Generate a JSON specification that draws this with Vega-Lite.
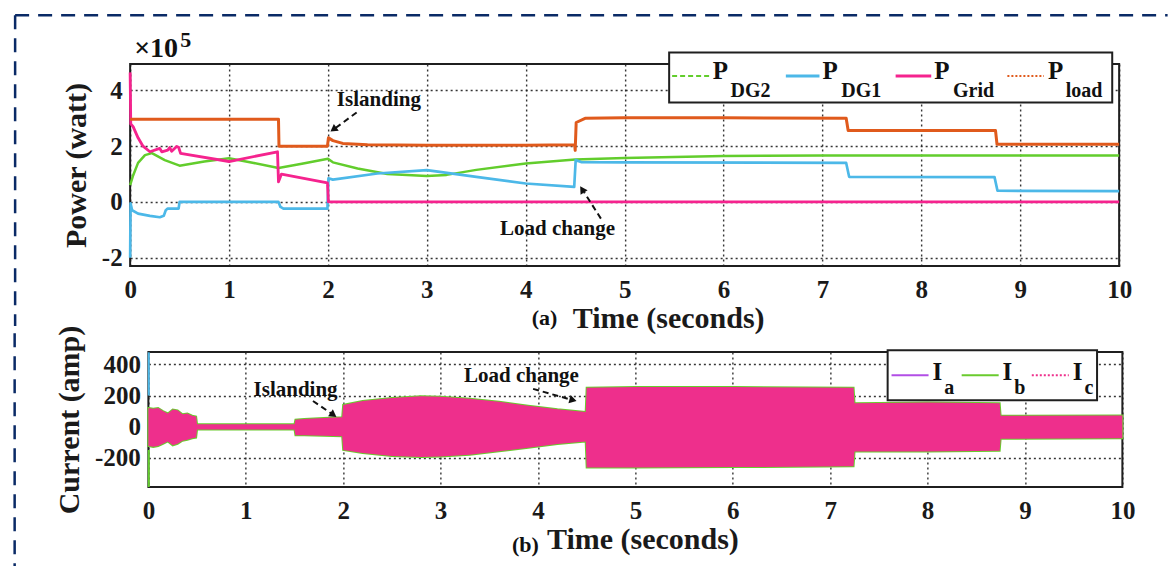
{
  "$schema": "https://vega.github.io/schema/vega-lite/v6.json",
  "background": "white",
  "padding": {"left": 12, "top": 12, "right": 0, "bottom": 0},
  "columns": 1,
  "center": true,
  "bounds": "full",
  "spacing": -10,
  "datasets": {
    "power": [
      {"t":0,"v":0.6,"s":"P_DG2"},{"t":0.03,"v":0.95,"s":"P_DG2"},{"t":0.08,"v":1.4,"s":"P_DG2"},{"t":0.15,"v":1.68,"s":"P_DG2"},{"t":0.22,"v":1.75,"s":"P_DG2"},{"t":0.35,"v":1.5,"s":"P_DG2"},{"t":0.5,"v":1.3,"s":"P_DG2"},{"t":0.75,"v":1.45,"s":"P_DG2"},{"t":1.0,"v":1.57,"s":"P_DG2"},{"t":1.25,"v":1.4,"s":"P_DG2"},{"t":1.5,"v":1.22,"s":"P_DG2"},{"t":1.75,"v":1.38,"s":"P_DG2"},{"t":2.0,"v":1.55,"s":"P_DG2"},{"t":2.05,"v":1.42,"s":"P_DG2"},{"t":2.3,"v":1.2,"s":"P_DG2"},{"t":2.6,"v":1.0,"s":"P_DG2"},{"t":3.0,"v":0.93,"s":"P_DG2"},{"t":3.2,"v":0.97,"s":"P_DG2"},{"t":3.5,"v":1.15,"s":"P_DG2"},{"t":4.0,"v":1.38,"s":"P_DG2"},{"t":4.5,"v":1.52,"s":"P_DG2"},{"t":5.0,"v":1.58,"s":"P_DG2"},{"t":6.0,"v":1.65,"s":"P_DG2"},{"t":7.0,"v":1.67,"s":"P_DG2"},{"t":10,"v":1.67,"s":"P_DG2"},
      {"t":0,"v":-2.0,"s":"P_DG1"},{"t":0.004,"v":-0.05,"s":"P_DG1"},{"t":0.02,"v":-0.3,"s":"P_DG1"},{"t":0.08,"v":-0.42,"s":"P_DG1"},{"t":0.2,"v":-0.5,"s":"P_DG1"},{"t":0.3,"v":-0.55,"s":"P_DG1"},{"t":0.34,"v":-0.5,"s":"P_DG1"},{"t":0.36,"v":-0.3,"s":"P_DG1"},{"t":0.38,"v":-0.24,"s":"P_DG1"},{"t":0.49,"v":-0.24,"s":"P_DG1"},{"t":0.5,"v":0,"s":"P_DG1"},{"t":1.5,"v":0,"s":"P_DG1"},{"t":1.52,"v":-0.18,"s":"P_DG1"},{"t":1.55,"v":-0.24,"s":"P_DG1"},{"t":1.995,"v":-0.24,"s":"P_DG1"},{"t":2.005,"v":0.85,"s":"P_DG1"},{"t":2.05,"v":0.8,"s":"P_DG1"},{"t":2.5,"v":1.02,"s":"P_DG1"},{"t":3.0,"v":1.14,"s":"P_DG1"},{"t":3.5,"v":0.9,"s":"P_DG1"},{"t":4.0,"v":0.66,"s":"P_DG1"},{"t":4.49,"v":0.54,"s":"P_DG1"},{"t":4.505,"v":1.5,"s":"P_DG1"},{"t":4.56,"v":1.43,"s":"P_DG1"},{"t":5,"v":1.42,"s":"P_DG1"},{"t":7.24,"v":1.4,"s":"P_DG1"},{"t":7.27,"v":0.9,"s":"P_DG1"},{"t":8.74,"v":0.89,"s":"P_DG1"},{"t":8.77,"v":0.4,"s":"P_DG1"},{"t":10,"v":0.39,"s":"P_DG1"},
      {"t":0,"v":4.65,"s":"P_Grid"},{"t":0.006,"v":2.8,"s":"P_Grid"},{"t":0.03,"v":2.7,"s":"P_Grid"},{"t":0.08,"v":2.3,"s":"P_Grid"},{"t":0.13,"v":2.0,"s":"P_Grid"},{"t":0.2,"v":1.8,"s":"P_Grid"},{"t":0.3,"v":1.92,"s":"P_Grid"},{"t":0.32,"v":1.8,"s":"P_Grid"},{"t":0.38,"v":1.86,"s":"P_Grid"},{"t":0.4,"v":1.95,"s":"P_Grid"},{"t":0.42,"v":1.82,"s":"P_Grid"},{"t":0.47,"v":1.99,"s":"P_Grid"},{"t":0.49,"v":1.96,"s":"P_Grid"},{"t":0.51,"v":1.74,"s":"P_Grid"},{"t":1.0,"v":1.45,"s":"P_Grid"},{"t":1.49,"v":1.8,"s":"P_Grid"},{"t":1.5,"v":0.72,"s":"P_Grid"},{"t":1.53,"v":1.0,"s":"P_Grid"},{"t":1.995,"v":0.68,"s":"P_Grid"},{"t":2.005,"v":0,"s":"P_Grid"},{"t":10,"v":0,"s":"P_Grid"},
      {"t":0,"v":2.97,"s":"P_load"},{"t":1.5,"v":2.97,"s":"P_load"},{"t":1.505,"v":2.0,"s":"P_load"},{"t":1.995,"v":2.0,"s":"P_load"},{"t":2.005,"v":2.3,"s":"P_load"},{"t":2.05,"v":2.2,"s":"P_load"},{"t":2.15,"v":2.1,"s":"P_load"},{"t":2.4,"v":2.05,"s":"P_load"},{"t":3,"v":2.03,"s":"P_load"},{"t":4,"v":2.03,"s":"P_load"},{"t":4.495,"v":2.05,"s":"P_load"},{"t":4.5,"v":1.85,"s":"P_load"},{"t":4.51,"v":2.85,"s":"P_load"},{"t":4.6,"v":3.0,"s":"P_load"},{"t":5,"v":3.02,"s":"P_load"},{"t":6,"v":3.02,"s":"P_load"},{"t":7.24,"v":3.0,"s":"P_load"},{"t":7.26,"v":2.56,"s":"P_load"},{"t":8,"v":2.56,"s":"P_load"},{"t":8.75,"v":2.56,"s":"P_load"},{"t":8.765,"v":2.07,"s":"P_load"},{"t":10,"v":2.07,"s":"P_load"}
    ],
    "env": [
      {"t":0,"lo":-125,"hi":120},{"t":0.05,"lo":-130,"hi":115},{"t":0.1,"lo":-125,"hi":120},{"t":0.15,"lo":-110,"hi":100},{"t":0.2,"lo":-95,"hi":85},{"t":0.25,"lo":-120,"hi":110},{"t":0.3,"lo":-110,"hi":105},{"t":0.35,"lo":-90,"hi":80},{"t":0.4,"lo":-85,"hi":85},{"t":0.45,"lo":-75,"hi":70},{"t":0.49,"lo":-70,"hi":65},{"t":0.5,"lo":-18,"hi":15},{"t":1.5,"lo":-18,"hi":15},{"t":1.51,"lo":-55,"hi":45},{"t":1.6,"lo":-55,"hi":50},{"t":1.8,"lo":-58,"hi":55},{"t":1.99,"lo":-62,"hi":60},{"t":2.0,"lo":-150,"hi":140},{"t":2.2,"lo":-170,"hi":165},{"t":2.5,"lo":-188,"hi":185},{"t":2.8,"lo":-195,"hi":195},{"t":3.0,"lo":-192,"hi":192},{"t":3.3,"lo":-180,"hi":180},{"t":3.6,"lo":-158,"hi":160},{"t":3.9,"lo":-135,"hi":135},{"t":4.2,"lo":-112,"hi":112},{"t":4.49,"lo":-95,"hi":95},{"t":4.5,"lo":-262,"hi":250},{"t":5,"lo":-262,"hi":255},{"t":6,"lo":-260,"hi":255},{"t":7.24,"lo":-255,"hi":250},{"t":7.25,"lo":-160,"hi":150},{"t":8,"lo":-160,"hi":155},{"t":8.74,"lo":-155,"hi":150},{"t":8.75,"lo":-78,"hi":70},{"t":10,"lo":-75,"hi":72}
    ],
    "spikes": [
      {"t":0.004,"a":200,"b":478,"ph":"Ib"},
      {"t":0.004,"a":-388,"b":-150,"ph":"Ia"}
    ]
  },
  "config": {
    "font": "Liberation Serif",
    "view": {"stroke": "#1f1f1f", "strokeWidth": 2},
    "axis": {
      "labelFont": "Liberation Serif", "labelFontWeight": "bold", "labelFontSize": 25, "labelColor": "#1a1a1a",
      "titleFont": "Liberation Serif", "titleFontWeight": "bold", "titleFontSize": 30, "titleColor": "#1a1a1a",
      "grid": true, "gridColor": "#1f1f1f", "gridDash": [2, 3], "gridWidth": 1.4, "gridOpacity": 0.9,
      "domain": false, "ticks": false, "labelPadding": 8, "labelOverlap": false
    },
    "text": {"font": "Liberation Serif", "fontWeight": "bold", "color": "#111111"}
  },
  "concat": [
    {
      "width": 989,
      "height": 202,
      "layer": [
        {
          "data": {"name": "power"},
          "mark": {"type": "line", "strokeJoin": "round"},
          "encoding": {
            "x": {"field": "t", "type": "quantitative", "scale": {"domain": [0, 10], "nice": false, "zero": false},
                  "axis": {"values": [0,1,2,3,4,5,6,7,8,9,10], "title": "Time (seconds)", "titleX": 538, "titleY": 61, "titleBaseline": "alphabetic", "labelPadding": 11, "labelFlush": false, "labelExpr": "'' + datum.value"}},
            "y": {"field": "v", "type": "quantitative", "scale": {"domain": [-2.3, 4.95], "nice": false, "zero": false},
                  "axis": {"values": [-2, 0, 2, 4], "title": "Power (watt)", "titlePadding": 10, "labelExpr": "'' + datum.value"}},
            "color": {"field": "s", "type": "nominal", "scale": {"domain": ["P_DG2","P_DG1","P_Grid","P_load"], "range": ["#62cd2c","#4cb8e8","#f5238e","#e05a1c"]}, "legend": null},
            "strokeWidth": {"field": "s", "type": "nominal", "scale": {"domain": ["P_DG2","P_DG1","P_Grid","P_load"], "range": [2.5, 3, 3.5, 4.5]}, "legend": null}
          }
        },
        {"data": {"values": [{}]}, "mark": {"type": "rule", "color": "#0a2a66", "strokeWidth": 2.5, "strokeDash": [14, 9]}, "encoding": {"x": {"datum": -1.163}, "x2": {"datum": 10.49}, "y": {"datum": 6.7}}},
        {"data": {"values": [{}]}, "mark": {"type": "rule", "color": "#0a2a66", "strokeWidth": 2.5, "strokeDash": [14, 9]}, "encoding": {"x": {"datum": -1.163}, "y": {"datum": 6.7}, "y2": {"datum": -4.45}}},
        {"data": {"values": [{}]}, "mark": {"type": "text", "text": "Islanding", "align": "left", "baseline": "alphabetic", "fontSize": 21}, "encoding": {"x": {"datum": 2.09}, "y": {"datum": 3.43}}},
        {"data": {"values": [{}]}, "mark": {"type": "rule", "color": "#111111", "strokeWidth": 2, "strokeDash": [6, 4]}, "encoding": {"x": {"datum": 2.29}, "y": {"datum": 3.21}, "x2": {"datum": 2.08}, "y2": {"datum": 2.66}}},
        {"data": {"values": [{}]}, "mark": {"type": "point", "shape": "triangle-up", "filled": true, "color": "#111111", "opacity": 1, "size": 70, "angle": 234}, "encoding": {"x": {"datum": 2.055}, "y": {"datum": 2.6}}},
        {"data": {"values": [{}]}, "mark": {"type": "text", "text": "Load change", "align": "left", "baseline": "alphabetic", "fontSize": 21}, "encoding": {"x": {"datum": 3.74}, "y": {"datum": -1.2}}},
        {"data": {"values": [{}]}, "mark": {"type": "rule", "color": "#111111", "strokeWidth": 2, "strokeDash": [6, 4]}, "encoding": {"x": {"datum": 4.76}, "y": {"datum": -0.6}, "x2": {"datum": 4.59}, "y2": {"datum": 0.35}}},
        {"data": {"values": [{}]}, "mark": {"type": "point", "shape": "triangle-up", "filled": true, "color": "#111111", "opacity": 1, "size": 70, "angle": 327}, "encoding": {"x": {"datum": 4.57}, "y": {"datum": 0.45}}},
        {"data": {"values": [{}]}, "mark": {"type": "text", "text": "×10", "align": "left", "baseline": "alphabetic", "fontSize": 28, "dx": 4, "dy": -7}, "encoding": {"x": {"datum": 0}, "y": {"datum": 4.95}}},
        {"data": {"values": [{}]}, "mark": {"type": "text", "text": "5", "align": "left", "baseline": "alphabetic", "fontSize": 22, "dx": 50, "dy": -17}, "encoding": {"x": {"datum": 0}, "y": {"datum": 4.95}}},
        {"data": {"values": [{}]}, "mark": {"type": "text", "text": "(a)", "align": "center", "baseline": "alphabetic", "fontSize": 22}, "encoding": {"x": {"datum": 4.19}, "y": {"datum": -4.42}}},
        {"data": {"values": [{}]}, "mark": {"type": "rect", "fill": "white", "stroke": "#1f1f1f", "strokeWidth": 2}, "encoding": {"x": {"datum": 5.45}, "x2": {"datum": 9.93}, "y": {"datum": 5.36}, "y2": {"datum": 3.57}}},
        {"data": {"values": [{}]}, "mark": {"type": "rule", "color": "#62cd2c", "strokeWidth": 2, "strokeDash": [5, 3]}, "encoding": {"x": {"datum": 5.48}, "x2": {"datum": 5.86}, "y": {"datum": 4.52}}},
        {"data": {"values": [{}]}, "mark": {"type": "rule", "color": "#4cb8e8", "strokeWidth": 3}, "encoding": {"x": {"datum": 6.63}, "x2": {"datum": 6.97}, "y": {"datum": 4.52}}},
        {"data": {"values": [{}]}, "mark": {"type": "rule", "color": "#f5238e", "strokeWidth": 3}, "encoding": {"x": {"datum": 7.74}, "x2": {"datum": 8.1}, "y": {"datum": 4.52}}},
        {"data": {"values": [{}]}, "mark": {"type": "rule", "color": "#e05a1c", "strokeWidth": 2, "strokeDash": [2, 2]}, "encoding": {"x": {"datum": 8.87}, "x2": {"datum": 9.24}, "y": {"datum": 4.52}}},
        {"data": {"values": [{}]}, "mark": {"type": "text", "text": "P", "align": "left", "baseline": "alphabetic", "fontSize": 25}, "encoding": {"x": {"datum": 5.89}, "y": {"datum": 4.4}}},
        {"data": {"values": [{}]}, "mark": {"type": "text", "text": "P", "align": "left", "baseline": "alphabetic", "fontSize": 25}, "encoding": {"x": {"datum": 7.0}, "y": {"datum": 4.4}}},
        {"data": {"values": [{}]}, "mark": {"type": "text", "text": "P", "align": "left", "baseline": "alphabetic", "fontSize": 25}, "encoding": {"x": {"datum": 8.13}, "y": {"datum": 4.4}}},
        {"data": {"values": [{}]}, "mark": {"type": "text", "text": "P", "align": "left", "baseline": "alphabetic", "fontSize": 25}, "encoding": {"x": {"datum": 9.28}, "y": {"datum": 4.4}}},
        {"data": {"values": [{}]}, "mark": {"type": "text", "text": "DG2", "align": "left", "baseline": "alphabetic", "fontSize": 20}, "encoding": {"x": {"datum": 6.07}, "y": {"datum": 3.75}}},
        {"data": {"values": [{}]}, "mark": {"type": "text", "text": "DG1", "align": "left", "baseline": "alphabetic", "fontSize": 20}, "encoding": {"x": {"datum": 7.19}, "y": {"datum": 3.75}}},
        {"data": {"values": [{}]}, "mark": {"type": "text", "text": "Grid", "align": "left", "baseline": "alphabetic", "fontSize": 20}, "encoding": {"x": {"datum": 8.32}, "y": {"datum": 3.75}}},
        {"data": {"values": [{}]}, "mark": {"type": "text", "text": "load", "align": "left", "baseline": "alphabetic", "fontSize": 20}, "encoding": {"x": {"datum": 9.46}, "y": {"datum": 3.75}}}
      ]
    },
    {
      "width": 974,
      "height": 135,
      "layer": [
        {
          "data": {"name": "env"},
          "mark": {"type": "area", "color": "#6acb2e", "stroke": "#6acb2e", "strokeWidth": 2, "opacity": 1},
          "encoding": {
            "x": {"field": "t", "type": "quantitative", "scale": {"domain": [0, 10], "nice": false, "zero": false},
                  "axis": {"values": [0,1,2,3,4,5,6,7,8,9,10], "title": "Time (seconds)", "titleX": 494, "titleY": 61, "titleBaseline": "alphabetic", "labelPadding": 11, "labelFlush": false, "labelExpr": "'' + datum.value"}},
            "y": {"field": "lo", "type": "quantitative", "scale": {"domain": [-388, 480], "nice": false, "zero": false},
                  "axis": {"values": [-200, 0, 200, 400], "title": "Current (amp)", "titlePadding": 10, "labelExpr": "'' + datum.value"}},
            "y2": {"field": "hi"}
          }
        },
        {
          "data": {"name": "env"},
          "mark": {"type": "area", "color": "#ee2f8c", "opacity": 1},
          "encoding": {
            "x": {"field": "t", "type": "quantitative"},
            "y": {"field": "lo", "type": "quantitative"},
            "y2": {"field": "hi"}
          }
        },
        {
          "data": {"name": "spikes"},
          "mark": {"type": "rule", "strokeWidth": 2},
          "encoding": {
            "x": {"field": "t", "type": "quantitative"},
            "y": {"field": "a", "type": "quantitative"},
            "y2": {"field": "b"},
            "color": {"field": "ph", "type": "nominal", "scale": {"domain": ["Ia","Ib","Ic"], "range": ["#b24ee6","#6acb2e","#ee2f8c"]}, "legend": null}
          }
        },
        {"data": {"values": [{}]}, "mark": {"type": "rule", "color": "#0a2a66", "strokeWidth": 2.5, "strokeDash": [14, 9]}, "encoding": {"x": {"datum": -1.373}, "y": {"datum": 600}, "y2": {"datum": -900}}},
        {"data": {"values": [{}]}, "mark": {"type": "rule", "opacity": 0, "strokeWidth": 2}, "encoding": {"x": {"datum": 10}, "x2": {"datum": 10.29}, "y": {"datum": 0}}},
        {"data": {"values": [{}]}, "mark": {"type": "text", "text": "Islanding", "align": "left", "baseline": "alphabetic", "fontSize": 21}, "encoding": {"x": {"datum": 1.08}, "y": {"datum": 200}}},
        {"data": {"values": [{}]}, "mark": {"type": "rule", "color": "#111111", "strokeWidth": 2, "strokeDash": [6, 4]}, "encoding": {"x": {"datum": 1.69}, "y": {"datum": 165}, "x2": {"datum": 1.88}, "y2": {"datum": 84}}},
        {"data": {"values": [{}]}, "mark": {"type": "point", "shape": "triangle-up", "filled": true, "color": "#111111", "opacity": 1, "size": 70, "angle": 125}, "encoding": {"x": {"datum": 1.9}, "y": {"datum": 76}}},
        {"data": {"values": [{}]}, "mark": {"type": "text", "text": "Load change", "align": "left", "baseline": "alphabetic", "fontSize": 21}, "encoding": {"x": {"datum": 3.24}, "y": {"datum": 286}}},
        {"data": {"values": [{}]}, "mark": {"type": "rule", "color": "#111111", "strokeWidth": 2, "strokeDash": [6, 4]}, "encoding": {"x": {"datum": 3.95}, "y": {"datum": 243}, "x2": {"datum": 4.32}, "y2": {"datum": 177}}},
        {"data": {"values": [{}]}, "mark": {"type": "point", "shape": "triangle-up", "filled": true, "color": "#111111", "opacity": 1, "size": 70, "angle": 105}, "encoding": {"x": {"datum": 4.36}, "y": {"datum": 171}}},
        {"data": {"values": [{}]}, "mark": {"type": "text", "text": "(b)", "align": "center", "baseline": "alphabetic", "fontSize": 22}, "encoding": {"x": {"datum": 3.87}, "y": {"datum": -806}}},
        {"data": {"values": [{}]}, "mark": {"type": "rect", "fill": "white", "stroke": "#1f1f1f", "strokeWidth": 2}, "encoding": {"x": {"datum": 7.59}, "x2": {"datum": 9.74}, "y": {"datum": 492}, "y2": {"datum": 170}}},
        {"data": {"values": [{}]}, "mark": {"type": "rule", "color": "#b24ee6", "strokeWidth": 2}, "encoding": {"x": {"datum": 7.63}, "x2": {"datum": 8.01}, "y": {"datum": 331}}},
        {"data": {"values": [{}]}, "mark": {"type": "rule", "color": "#6acb2e", "strokeWidth": 2}, "encoding": {"x": {"datum": 8.35}, "x2": {"datum": 8.73}, "y": {"datum": 331}}},
        {"data": {"values": [{}]}, "mark": {"type": "rule", "color": "#ee2f8c", "strokeWidth": 2, "strokeDash": [2, 2]}, "encoding": {"x": {"datum": 9.07}, "x2": {"datum": 9.45}, "y": {"datum": 331}}},
        {"data": {"values": [{}]}, "mark": {"type": "text", "text": "I", "align": "left", "baseline": "alphabetic", "fontSize": 25}, "encoding": {"x": {"datum": 8.05}, "y": {"datum": 299}}},
        {"data": {"values": [{}]}, "mark": {"type": "text", "text": "I", "align": "left", "baseline": "alphabetic", "fontSize": 25}, "encoding": {"x": {"datum": 8.77}, "y": {"datum": 299}}},
        {"data": {"values": [{}]}, "mark": {"type": "text", "text": "I", "align": "left", "baseline": "alphabetic", "fontSize": 25}, "encoding": {"x": {"datum": 9.49}, "y": {"datum": 299}}},
        {"data": {"values": [{}]}, "mark": {"type": "text", "text": "a", "align": "left", "baseline": "alphabetic", "fontSize": 20}, "encoding": {"x": {"datum": 8.17}, "y": {"datum": 213}}},
        {"data": {"values": [{}]}, "mark": {"type": "text", "text": "b", "align": "left", "baseline": "alphabetic", "fontSize": 20}, "encoding": {"x": {"datum": 8.89}, "y": {"datum": 213}}},
        {"data": {"values": [{}]}, "mark": {"type": "text", "text": "c", "align": "left", "baseline": "alphabetic", "fontSize": 20}, "encoding": {"x": {"datum": 9.61}, "y": {"datum": 213}}}
      ]
    }
  ]
}
